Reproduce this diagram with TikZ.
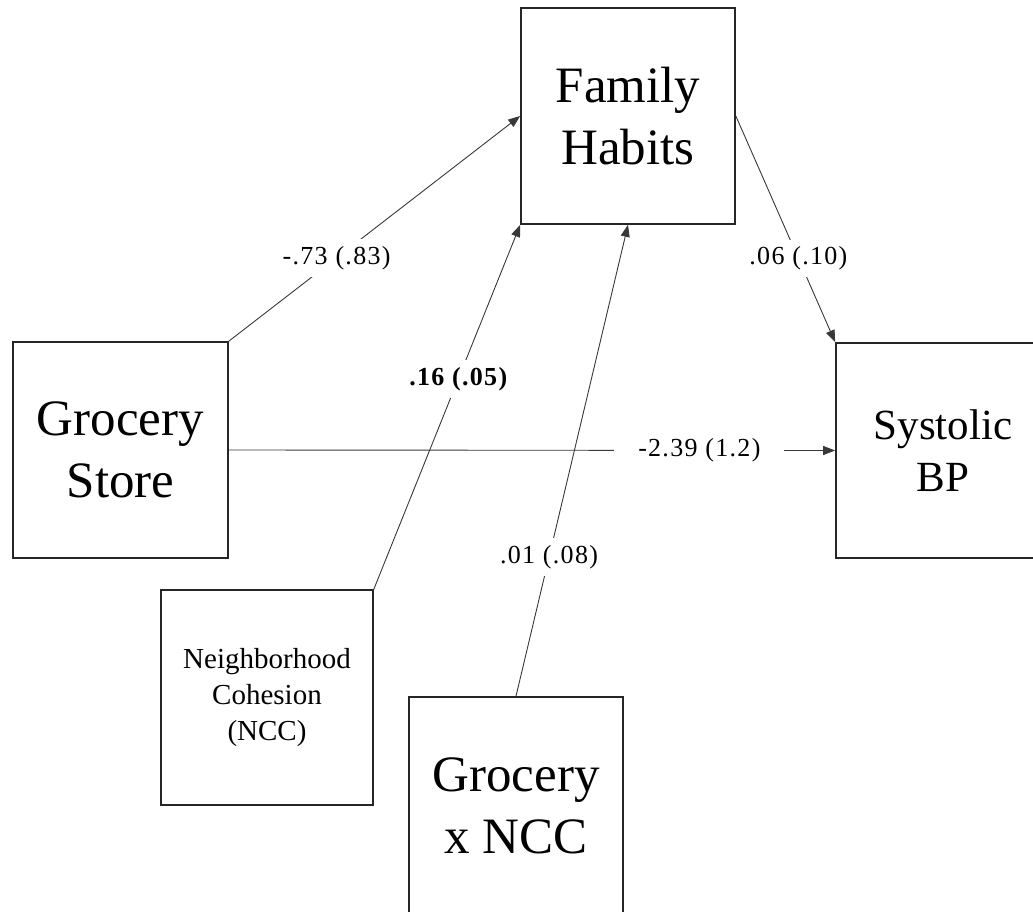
\documentclass[tikz,border=0pt]{standalone}
\usepackage{fontspec}
\setmainfont{Liberation Serif}
\newfontfamily\coeffont{Liberation Serif}[LetterSpace=5]
\usetikzlibrary{arrows.meta}
\begin{document}
\begin{tikzpicture}[x=1pt,y=-1pt,
  varbox/.style={draw=black!85, line width=1.7pt, align=center, inner sep=0pt},
  bigtxt/.style={font=\fontsize{51}{62}\selectfont},
  midtxt/.style={font=\fontsize{43}{52}\selectfont},
  smalltxt/.style={font=\fontsize{29}{36}\selectfont},
  link/.style={draw=black!78, line width=0.9pt, -{Triangle[length=12pt,width=9pt]}},
  coef/.style={fill=white, inner xsep=3pt, inner ysep=7pt, font=\coeffont\fontsize{26}{26}\selectfont}
]
\useasboundingbox (0,0) rectangle (1033,912);
\clip (0,0) rectangle (1033,912);

% variables
\node[varbox, bigtxt, minimum width=214pt, minimum height=216pt] (fh) at (628,116) {Family\\Habits};
\node[varbox, bigtxt, minimum width=215pt, minimum height=216pt] (gs) at (120.5,450) {Grocery\\Store};
\node[varbox, midtxt, minimum width=214pt, minimum height=215pt] (sbp) at (943,450.5) {Systolic\\BP};
\node[varbox, smalltxt, minimum width=212pt, minimum height=215pt] (ncc) at (267,697.5) {Neighborhood\\Cohesion\\(NCC)};
\node[varbox, bigtxt, minimum width=214pt, minimum height=217pt] (gx) at (516,805.5) {Grocery\\x NCC};

% paths with coefficients (SE)
\draw[link] (gs.north east) -- node[coef, pos=0.37] {-.73 (.83)} (fh.west);
\draw[link] (ncc.north east) -- node[coef, pos=0.577, font=\coeffont\bfseries\fontsize{26}{26}\selectfont] {.16 (.05)} (fh.south west);
\draw[link] (gx.north) -- node[coef, pos=0.295] {.01 (.08)} (fh.south);
\draw[link] (fh.east) -- node[coef, pos=0.63] {.06 (.10)} (sbp.north west);
\draw[link] (gs.east) -- node[coef, pos=0.776, inner xsep=24pt] {-2.39 (1.2)} (sbp.west);
\end{tikzpicture}
\end{document}
